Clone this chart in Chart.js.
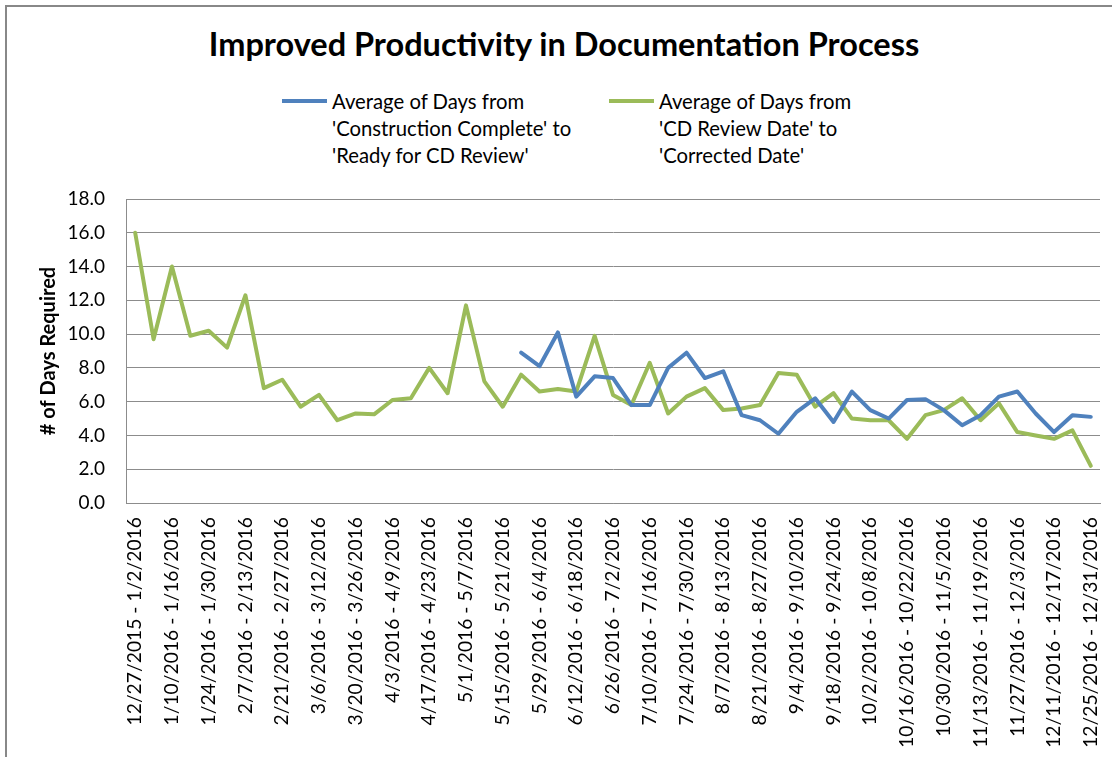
<!DOCTYPE html>
<html lang="en">
<head>
<meta charset="UTF-8">
<title>Improved Productivity in Documentation Process</title>
<script src="https://cdn.jsdelivr.net/npm/chart.js"></script>
<style>
*{box-sizing:border-box}
body{margin:0;background:#fff;width:1112px;height:757px;overflow:hidden;position:relative;font-family:Lato,"Liberation Sans",sans-serif}
.frame{position:absolute;left:5px;top:5px;width:1200px;height:900px;border-left:2px solid #888;border-top:2px solid #888}
h1{position:absolute;left:0;width:1128px;top:24px;margin:0;text-align:center;font-size:32.5px;font-weight:700;color:#000;line-height:40px}
.legend{position:absolute;top:88px;font-size:20.3px;line-height:27px;color:#000}
.legend .swatch{position:absolute;left:-50px;top:11px;width:45px;height:4px}
#chart{position:absolute;left:0;top:0}
</style>
</head>
<body>
<div class="frame"></div>
<h1>Improved Productivity in Documentation Process</h1>
<div class="legend" id="lg0" style="left:332px"></div>
<div class="legend" id="lg1" style="left:659px"></div>
<canvas id="chart" width="1112" height="757"></canvas>
<script>
// weekly buckets, Sunday - Saturday
const weeks = [
  '12/27/2015 - 1/2/2016', '1/3/2016 - 1/9/2016', '1/10/2016 - 1/16/2016', '1/17/2016 - 1/23/2016',
  '1/24/2016 - 1/30/2016', '1/31/2016 - 2/6/2016', '2/7/2016 - 2/13/2016', '2/14/2016 - 2/20/2016',
  '2/21/2016 - 2/27/2016', '2/28/2016 - 3/5/2016', '3/6/2016 - 3/12/2016', '3/13/2016 - 3/19/2016',
  '3/20/2016 - 3/26/2016', '3/27/2016 - 4/2/2016', '4/3/2016 - 4/9/2016', '4/10/2016 - 4/16/2016',
  '4/17/2016 - 4/23/2016', '4/24/2016 - 4/30/2016', '5/1/2016 - 5/7/2016', '5/8/2016 - 5/14/2016',
  '5/15/2016 - 5/21/2016', '5/22/2016 - 5/28/2016', '5/29/2016 - 6/4/2016', '6/5/2016 - 6/11/2016',
  '6/12/2016 - 6/18/2016', '6/19/2016 - 6/25/2016', '6/26/2016 - 7/2/2016', '7/3/2016 - 7/9/2016',
  '7/10/2016 - 7/16/2016', '7/17/2016 - 7/23/2016', '7/24/2016 - 7/30/2016', '7/31/2016 - 8/6/2016',
  '8/7/2016 - 8/13/2016', '8/14/2016 - 8/20/2016', '8/21/2016 - 8/27/2016', '8/28/2016 - 9/3/2016',
  '9/4/2016 - 9/10/2016', '9/11/2016 - 9/17/2016', '9/18/2016 - 9/24/2016', '9/25/2016 - 10/1/2016',
  '10/2/2016 - 10/8/2016', '10/9/2016 - 10/15/2016', '10/16/2016 - 10/22/2016', '10/23/2016 - 10/29/2016',
  '10/30/2016 - 11/5/2016', '11/6/2016 - 11/12/2016', '11/13/2016 - 11/19/2016', '11/20/2016 - 11/26/2016',
  '11/27/2016 - 12/3/2016', '12/4/2016 - 12/10/2016', '12/11/2016 - 12/17/2016', '12/18/2016 - 12/24/2016',
  '12/25/2016 - 12/31/2016'
];

// Construction Complete -> Ready for CD Review (no data before late May)
const readyForReview = [
  null, null, null, null, null, null, null, null, null, null, null, null, null, null, null, null,
  null, null, null, null, null,
  8.9, 8.1, 10.1, 6.3, 7.5, 7.4, 5.8, 5.8, 8.0, 8.9, 7.4, 7.8, 5.2, 4.9, 4.1,
  5.4, 6.2, 4.8, 6.6, 5.5, 5.0, 6.1, 6.15, 5.5, 4.6, 5.2, 6.3, 6.6, 5.3, 4.2, 5.2, 5.1
];

// CD Review Date -> Corrected Date
const corrected = [
  16.0, 9.7, 14.0, 9.9, 10.2, 9.2, 12.3, 6.8, 7.3, 5.7, 6.4, 4.9, 5.3, 5.25, 6.1, 6.2,
  8.0, 6.5, 11.7, 7.2, 5.7, 7.6, 6.6, 6.75, 6.6, 9.9, 6.4, 5.8, 8.3, 5.3, 6.3, 6.8,
  5.5, 5.6, 5.8, 7.7, 7.6, 5.7, 6.5, 5.0, 4.9, 4.9, 3.8, 5.2, 5.5, 6.2, 4.9, 5.9,
  4.2, 4.0, 3.8, 4.3, 2.2
];

const seriesNames = [
  ["Average of Days from", "'Construction Complete' to", "'Ready for CD Review'"],
  ["Average of Days from", "'CD Review Date' to", "'Corrected Date'"]
];
const seriesColors = ['#4f81bd', '#9bbb59'];

seriesNames.forEach((lines, i) => {
  const el = document.getElementById('lg' + i);
  el.innerHTML = '<span class="swatch" style="background:' + seriesColors[i] + '"></span>' + lines.join('<br>');
});

const fontFamily = 'Lato, "Liberation Sans", sans-serif';

new Chart(document.getElementById('chart'), {
  type: 'line',
  data: {
    labels: weeks,
    datasets: [
      { label: seriesNames[0].join(' '), data: readyForReview, borderColor: seriesColors[0], backgroundColor: seriesColors[0] },
      { label: seriesNames[1].join(' '), data: corrected, borderColor: seriesColors[1], backgroundColor: seriesColors[1] }
    ]
  },
  options: {
    responsive: false,
    animation: false,
    layout: { padding: { left: 37, top: 199, right: 12, bottom: 0 } },
    elements: {
      line: { borderWidth: 4, tension: 0, borderJoinStyle: 'round', borderCapStyle: 'round' },
      point: { radius: 0, hoverRadius: 0 }
    },
    plugins: { legend: { display: false }, title: { display: false }, tooltip: { enabled: false } },
    scales: {
      x: {
        offset: true,
        grid: { display: false, drawTicks: false },
        border: { color: '#8c8c8c', width: 1 },
        afterFit: s => { s.height = 757 - 503; s.paddingLeft = 0; s.paddingRight = 0; },
        ticks: {
          autoSkip: false,
          minRotation: 90,
          maxRotation: 90,
          padding: 14,
          color: '#000',
          font: { family: fontFamily, size: 19.3 },
          callback: function (v, i) { return i % 2 === 0 ? this.getLabelForValue(v) : ''; }
        }
      },
      y: {
        min: 0,
        max: 18,
        grid: { color: '#8c8c8c', drawTicks: false },
        border: { color: '#8c8c8c', width: 1 },
        afterFit: s => { s.width = 89; },
        title: {
          display: true,
          text: '# of Days Required',
          color: '#000',
          font: { family: fontFamily, size: 20, weight: 'bold' },
          padding: { top: 0, bottom: 0 }
        },
        ticks: {
          stepSize: 2,
          padding: 21,
          color: '#000',
          font: { family: fontFamily, size: 19 },
          callback: v => v.toFixed(1)
        }
      }
    }
  }
});
</script>
</body>
</html>
